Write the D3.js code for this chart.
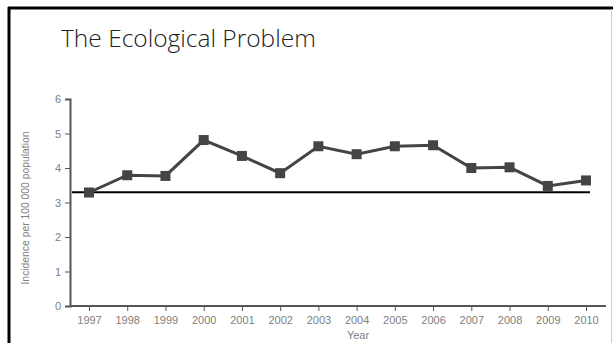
<!DOCTYPE html>
<html>
<head>
<meta charset="utf-8">
<script src="https://cdn.jsdelivr.net/npm/d3@7"></script>
<style>
  body { margin: 0; background: #fff; }
  svg { display: block; }
</style>
</head>
<body>
<svg width="613" height="343"></svg>
<script>
// data
const years = [1997, 1998, 1999, 2000, 2001, 2002, 2003, 2004, 2005, 2006, 2007, 2008, 2009, 2010];
const incidence = [3.29, 3.79, 3.77, 4.81, 4.35, 3.85, 4.63, 4.40, 4.63, 4.66, 4.00, 4.02, 3.48, 3.64];
const baseline = 3.3;
const yTicks = [0, 1, 2, 3, 4, 5, 6];

const svg = d3.select("svg");

// slide frame
svg.append("line").attr("x1", 8).attr("x2", 613).attr("y1", 8).attr("y2", 8)
    .attr("stroke", "#000").attr("stroke-width", 3);
svg.append("line").attr("x1", 9).attr("x2", 9).attr("y1", 7).attr("y2", 343)
    .attr("stroke", "#000").attr("stroke-width", 3);
svg.append("line").attr("x1", 611.5).attr("x2", 611.5).attr("y1", 9).attr("y2", 343)
    .attr("stroke", "#ccc").attr("stroke-width", 1);

svg.append("text")
    .attr("x", 61).attr("y", 47)
    .attr("font-family", "Open Sans, sans-serif")
    .attr("font-weight", 300)
    .attr("font-size", 24.5)
    .attr("fill", "#222")
    .text("The Ecological Problem");

// scales
const x = d3.scalePoint().domain(years).range([89, 586]);
const y = d3.scaleLinear().domain([0, 6]).range([306, 99]);

const axisColor = "#555";
const labelColor = "#808080";

// y axis
const yAxis = svg.append("g")
    .attr("transform", "translate(70,0)")
    .call(d3.axisLeft(y).tickValues(yTicks).tickSize(5).tickPadding(4).tickFormat(d3.format("d")));
yAxis.select(".domain").attr("stroke", axisColor).attr("stroke-width", 2);

// x axis
const xAxis = svg.append("g")
    .attr("transform", "translate(0,306)")
    .call(d3.axisBottom(x).tickSize(5).tickPadding(5));
xAxis.select(".domain").attr("d", "M70,0H606").attr("stroke", axisColor).attr("stroke-width", 2);

svg.selectAll(".tick line").attr("stroke", axisColor);
svg.selectAll(".tick text")
    .attr("fill", labelColor)
    .attr("font-family", "Liberation Sans, Arial, sans-serif")
    .attr("font-size", 11);

svg.append("text")
    .attr("x", 358).attr("y", 339)
    .attr("text-anchor", "middle")
    .attr("font-family", "Liberation Sans, Arial, sans-serif")
    .attr("font-size", 11)
    .attr("fill", labelColor)
    .text("Year");

svg.append("text")
    .attr("transform", "translate(29,208) rotate(-90)")
    .attr("text-anchor", "middle")
    .attr("font-family", "Liberation Sans Narrow, Liberation Sans, Arial, sans-serif")
    .attr("font-size", 10)
    .attr("textLength", 153)
    .attr("lengthAdjust", "spacingAndGlyphs")
    .attr("fill", labelColor)
    .text("Incidence per 100 000 population");

// reference line
svg.append("line")
    .attr("x1", 72).attr("x2", 590)
    .attr("y1", y(baseline)).attr("y2", y(baseline))
    .attr("stroke", "#000").attr("stroke-width", 2);

// series
const line = d3.line()
    .x((d, i) => x(years[i]))
    .y(d => y(d));

svg.append("path")
    .datum(incidence)
    .attr("d", line)
    .attr("fill", "none")
    .attr("stroke", "#444")
    .attr("stroke-width", 3);

svg.selectAll("rect.pt")
    .data(incidence)
    .join("rect")
    .attr("class", "pt")
    .attr("x", (d, i) => x(years[i]) - 5)
    .attr("y", d => y(d) - 5)
    .attr("width", 10)
    .attr("height", 10)
    .attr("fill", "#444");
</script>
</body>
</html>
